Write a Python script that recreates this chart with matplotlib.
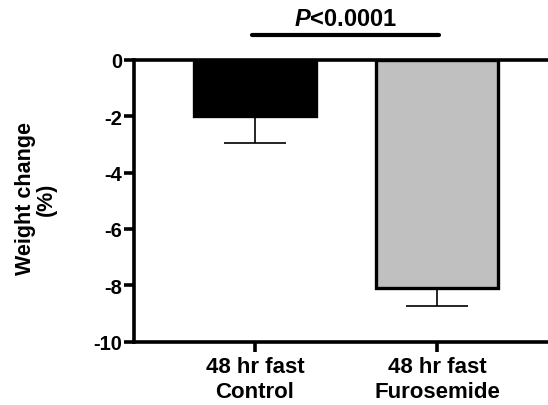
import matplotlib
matplotlib.use('Agg')
import matplotlib.pyplot as plt

plt.rcParams['font.family'] = ['Liberation Sans', 'DejaVu Sans']
plt.rcParams['font.weight'] = 'bold'
plt.rcParams['axes.unicode_minus'] = False
plt.rcParams['mathtext.fontset'] = 'custom'
plt.rcParams['mathtext.it'] = 'Liberation Sans:italic:bold'
plt.rcParams['mathtext.rm'] = 'Liberation Sans:bold'

groups = ['48 hr fast\nControl', '48 hr fast\nFurosemide']
means = [-2.0, -8.1]
sems = [0.95, 0.62]
colors = ['black', '#c0c0c0']
p_label = r'$\mathit{P}$<0.0001'

fig = plt.figure(figsize=(5.48, 4.06), dpi=100)
ax = fig.add_axes([0.2445, 0.1562, 0.7555, 0.6936])

x = range(len(groups))
ax.bar(x, means, width=0.67, color=colors, edgecolor='black', linewidth=2.4, zorder=2)
# error bars only point away from zero
ax.errorbar(x, means, yerr=[[s for s in sems], [0 for s in sems]], fmt='none',
            ecolor='black', elinewidth=1.2, capsize=22, capthick=1.2, zorder=1)

ax.set_xlim(-0.665, 1.61)
ax.set_ylim(-10, 0)
ax.set_yticks([0, -2, -4, -6, -8, -10])
ax.set_xticks(list(x))
ax.set_xticklabels(groups, fontsize=16, fontweight='bold', linespacing=1.22)
ax.tick_params(axis='y', labelsize=14.5, width=2.6, length=7.5, pad=1)
ax.tick_params(axis='x', width=2.6, length=7.5, pad=3)
for t in ax.get_yticklabels():
    t.set_fontweight('bold')

for side in ['left', 'top', 'bottom']:
    ax.spines[side].set_linewidth(2.6)
ax.spines['right'].set_visible(False)

ax.set_ylabel('Weight change\n(%)', fontsize=15.5, fontweight='bold', linespacing=1.0)
ax.yaxis.set_label_coords(-0.186, 0.51)

# significance bar across both groups
ax.plot([-0.016, 1.01], [0.88, 0.88], color='black', lw=3, solid_capstyle='round', clip_on=False)
ax.text(0.495, 1.47, p_label, ha='center', va='center', fontsize=17, fontweight='bold')

fig.savefig('out.png', dpi=100)
